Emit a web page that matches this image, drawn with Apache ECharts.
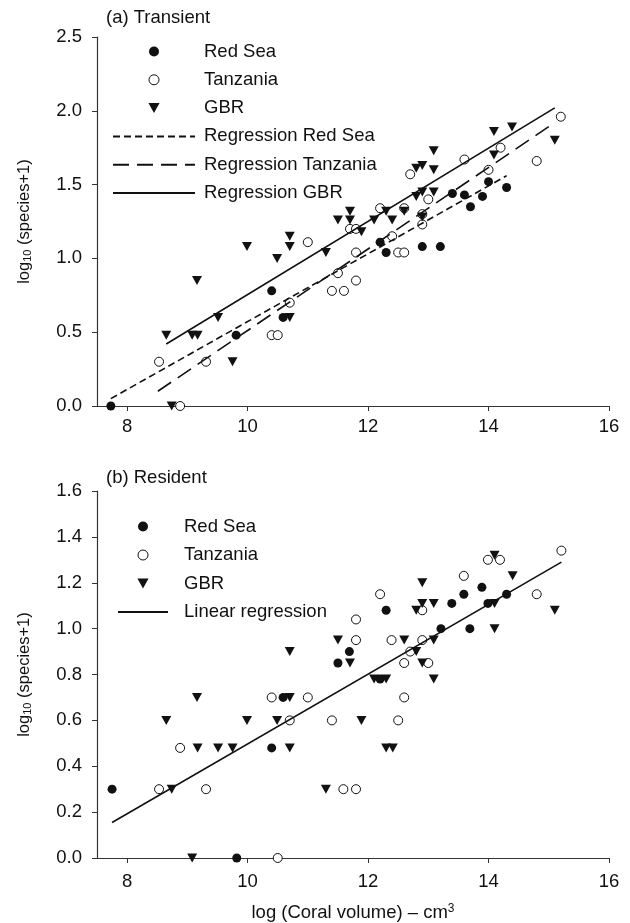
<!DOCTYPE html>
<html>
<head>
<meta charset="utf-8">
<script src="https://cdn.jsdelivr.net/npm/echarts@6/dist/echarts.min.js"></script>
<style>
  html, body { margin: 0; background: #fff; }
  #chart { width: 630px; height: 923px; }
</style>
</head>
<body>
<div id="chart"></div>
<script>
  // ---- data: (a) transient, [log coral volume, log10(species+1)]
  var redSeaTransient = [
    [7.73, 0], [9.81, 0.48], [10.40, 0.78], [10.59, 0.60], [12.20, 1.11], [12.30, 1.04],
    [12.90, 1.08], [13.20, 1.08], [13.40, 1.44], [13.60, 1.43], [13.70, 1.35], [13.90, 1.42],
    [14.00, 1.52], [14.30, 1.48]
  ];
  var tanzaniaTransient = [
    [8.53, 0.30], [8.88, 0], [9.31, 0.30], [10.40, 0.48], [10.50, 0.48], [10.70, 0.70],
    [11.00, 1.11], [11.40, 0.78], [11.50, 0.90], [11.60, 0.78], [11.70, 1.20], [11.80, 1.20],
    [11.80, 1.04], [11.80, 0.85], [12.20, 1.34], [12.40, 1.15], [12.50, 1.04], [12.60, 1.04],
    [12.60, 1.34], [12.70, 1.57], [12.90, 1.23], [12.90, 1.30], [13.00, 1.40], [13.60, 1.67],
    [14.00, 1.60], [14.20, 1.75], [14.80, 1.66], [15.20, 1.96]
  ];
  var gbrTransient = [
    [8.65, 0.48], [8.74, 0], [9.08, 0.48], [9.17, 0.48], [9.16, 0.85], [9.51, 0.60],
    [9.75, 0.30], [9.99, 1.08], [10.49, 1.00], [10.70, 1.15], [10.70, 1.08], [10.70, 0.60],
    [11.30, 1.04], [11.50, 1.26], [11.70, 1.32], [11.70, 1.26], [11.89, 1.18], [12.10, 1.26],
    [12.30, 1.32], [12.40, 1.26], [12.60, 1.32], [12.80, 1.42], [12.90, 1.28], [12.90, 1.45],
    [12.80, 1.61], [12.90, 1.63], [13.09, 1.60], [13.09, 1.73], [13.09, 1.45], [14.09, 1.86],
    [14.39, 1.89], [14.09, 1.70], [15.10, 1.80]
  ];
  // regression lines (end points)
  var regRedSeaTransient = [[7.73, 0.05], [14.30, 1.56]];
  var regTanzaniaTransient = [[8.51, 0.10], [15.10, 1.92]];
  var regGbrTransient = [[8.65, 0.42], [15.10, 2.02]];

  // ---- data: (b) resident
  var redSeaResident = [
    [7.75, 0.30], [9.82, 0], [10.40, 0.48], [10.59, 0.70], [11.50, 0.85], [11.69, 0.90],
    [12.20, 0.78], [12.30, 1.08], [13.21, 1.00], [13.39, 1.11], [13.59, 1.15], [13.69, 1.00],
    [13.89, 1.18], [13.99, 1.11], [14.30, 1.15]
  ];
  var tanzaniaResident = [
    [8.53, 0.30], [8.88, 0.48], [9.31, 0.30], [10.40, 0.70], [10.50, 0], [10.70, 0.60],
    [11.00, 0.70], [11.40, 0.60], [11.59, 0.30], [11.80, 0.30], [11.80, 0.95], [11.80, 1.04],
    [12.20, 1.15], [12.39, 0.95], [12.50, 0.60], [12.60, 0.70], [12.60, 0.85], [12.70, 0.90],
    [12.90, 1.08], [12.90, 0.95], [13.00, 0.85], [13.59, 1.23], [13.99, 1.30], [14.19, 1.30],
    [14.80, 1.15], [15.21, 1.34]
  ];
  var gbrResident = [
    [8.65, 0.60], [8.74, 0.30], [9.08, 0], [9.16, 0.70], [9.17, 0.48], [9.51, 0.48],
    [9.75, 0.48], [9.99, 0.60], [10.49, 0.60], [10.70, 0.90], [10.70, 0.70], [10.70, 0.48],
    [11.30, 0.30], [11.50, 0.95], [11.70, 0.85], [11.89, 0.60], [12.10, 0.78], [12.30, 0.78],
    [12.30, 0.48], [12.41, 0.48], [12.60, 0.95], [12.80, 1.08], [12.80, 0.90], [12.90, 1.20],
    [12.90, 1.11], [12.90, 0.85], [13.09, 1.11], [13.09, 0.95], [13.09, 0.78], [14.10, 1.32],
    [14.40, 1.23], [14.10, 1.11], [14.10, 1.00], [15.10, 1.08]
  ];
  var regResident = [[7.75, 0.155], [15.21, 1.29]];

  // ---- ticks
  var xTicks = [8, 10, 12, 14, 16];
  var yMaxTop = 2.5, yStepTop = 0.5;
  var yMaxBottom = 1.6, yStepBottom = 0.2;

  var FONT = '"Liberation Sans", Arial, sans-serif';
  var FS = 18.5;
  var INK = '#111';
  var TRI = 'path://M0,0 L10,0 L5,9 Z';

  var chart = echarts.init(document.getElementById('chart'));

  function xAxis(gridIndex, withName, margin) {
    var ax = {
      type: 'value', gridIndex: gridIndex, min: 7.5, max: 16,
      axisLine: { lineStyle: { color: '#333', width: 1.2 } },
      axisTick: { inside: false, length: 5, customValues: xTicks, lineStyle: { color: '#333' } },
      axisLabel: { customValues: xTicks, margin: margin, fontSize: FS, color: INK, fontFamily: FONT },
      splitLine: { show: false }
    };
    if (withName) {
      ax.name = 'log (Coral volume) – cm{sup|3}';
      ax.nameLocation = 'middle';
      ax.nameGap = 45;
      ax.nameTextStyle = {
        fontSize: FS, color: INK, fontFamily: FONT,
        rich: { sup: { fontSize: 12, verticalAlign: 'top', color: INK, fontFamily: FONT } }
      };
    }
    return ax;
  }

  function yAxis(gridIndex, max, step) {
    return {
      type: 'value', gridIndex: gridIndex, min: 0, max: max, interval: step,
      name: 'log{sub|10} (species+1)',
      nameLocation: 'middle', nameGap: 64,
      nameTextStyle: {
        fontSize: 16.5, color: INK, fontFamily: FONT,
        rich: { sub: { fontSize: 11, verticalAlign: 'bottom', color: INK, fontFamily: FONT } }
      },
      axisLine: { show: true, lineStyle: { color: '#333', width: 1.2 } },
      axisTick: { show: true, inside: false, length: 5, lineStyle: { color: '#333' } },
      axisLabel: {
        margin: 15, fontSize: FS, color: INK, fontFamily: FONT,
        formatter: function (v) { return v.toFixed(1); }
      },
      splitLine: { show: false }
    };
  }

  function scatter(name, data, idx, kind) {
    var s = {
      name: name, type: 'scatter', xAxisIndex: idx, yAxisIndex: idx, data: data,
      symbol: 'circle', symbolSize: 9,
      itemStyle: { color: '#111', opacity: 1 }
    };
    if (kind === 'open') {
      s.itemStyle = { color: '#fff', borderColor: '#111', borderWidth: 1, opacity: 1 };
    } else if (kind === 'tri') {
      s.symbol = TRI;
      s.symbolSize = [10, 9];
    }
    return s;
  }

  function regLine(name, data, idx, dash) {
    return {
      name: name, type: 'line', xAxisIndex: idx, yAxisIndex: idx, data: data,
      symbol: 'none', showSymbol: false, silent: true,
      itemStyle: { color: '#111' },
      lineStyle: { color: '#111', width: 1.6, type: dash }
    };
  }

  var legendText = { fontSize: FS, color: INK, fontFamily: FONT };
  var noDot = { color: 'transparent', borderWidth: 0 };
  var titleText = { fontSize: FS, fontWeight: 'normal', color: INK, fontFamily: FONT };

  var option = {
    backgroundColor: '#fff',
    animation: false,
    title: [
      { text: '(a) Transient', left: 101, top: 3, textStyle: titleText },
      { text: '(b) Resident', left: 101, top: 463, textStyle: titleText }
    ],
    grid: [
      { left: 97, right: 21, top: 37, height: 369 },
      { left: 97, right: 21, top: 491, height: 368 }
    ],
    legend: [
      {
        orient: 'vertical', left: 112, top: 42, padding: 0,
        itemWidth: 82, itemHeight: 10, itemGap: 9.3,
        selectedMode: false, symbolKeepAspect: true,
        textStyle: Object.assign({ padding: [0, 0, 0, 4] }, legendText),
        data: [
          { name: 'Red Sea', icon: 'circle', itemStyle: { color: '#111', borderWidth: 0 } },
          { name: 'Tanzania', icon: 'circle', itemStyle: { color: '#fff', borderColor: '#111', borderWidth: 1 } },
          { name: 'GBR', icon: TRI, itemStyle: { color: '#111', borderWidth: 0 } },
          { name: 'Regression Red Sea', itemStyle: noDot },
          { name: 'Regression Tanzania', itemStyle: noDot },
          { name: 'Regression GBR', itemStyle: noDot }
        ]
      },
      {
        orient: 'vertical', left: 117, top: 517, padding: 0,
        itemWidth: 50, itemHeight: 10, itemGap: 9.5,
        selectedMode: false, symbolKeepAspect: true,
        textStyle: Object.assign({ padding: [0, 0, 0, 11] }, legendText),
        data: [
          { name: 'Red Sea', icon: 'circle', itemStyle: { color: '#111', borderWidth: 0 } },
          { name: 'Tanzania', icon: 'circle', itemStyle: { color: '#fff', borderColor: '#111', borderWidth: 1 } },
          { name: 'GBR', icon: TRI, itemStyle: { color: '#111', borderWidth: 0 } },
          { name: 'Linear regression', itemStyle: noDot }
        ]
      }
    ],
    xAxis: [xAxis(0, false, 11), xAxis(1, true, 14)],
    yAxis: [yAxis(0, yMaxTop, yStepTop), yAxis(1, yMaxBottom, yStepBottom)],
    series: [
      regLine('Regression Red Sea', regRedSeaTransient, 0, [7, 4]),
      regLine('Regression Tanzania', regTanzaniaTransient, 0, [16, 8]),
      regLine('Regression GBR', regGbrTransient, 0, 'solid'),
      scatter('Tanzania', tanzaniaTransient, 0, 'open'),
      scatter('Red Sea', redSeaTransient, 0, 'fill'),
      scatter('GBR', gbrTransient, 0, 'tri'),

      regLine('Linear regression', regResident, 1, 'solid'),
      scatter('Tanzania', tanzaniaResident, 1, 'open'),
      scatter('Red Sea', redSeaResident, 1, 'fill'),
      scatter('GBR', gbrResident, 1, 'tri')
    ]
  };

  chart.setOption(option);
</script>
</body>
</html>
